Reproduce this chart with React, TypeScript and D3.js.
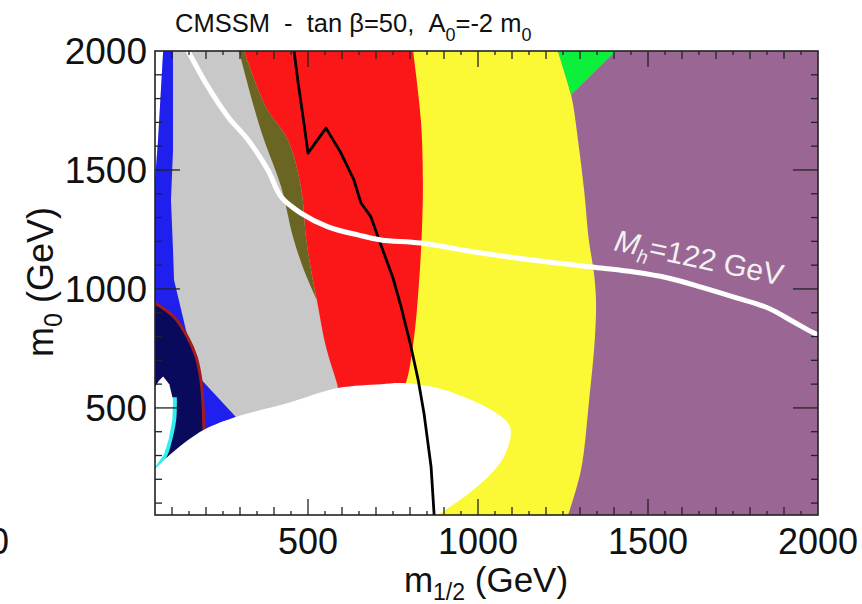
import React from "react";
import * as d3 from "d3";

type P = [number, number];

// Axes (GeV)
const X_DOMAIN: [number, number] = [50, 2000];
const Y_DOMAIN: [number, number] = [50, 2000];
const xTickLabels = [500, 1000, 1500, 2000];
const yTickLabels = [500, 1000, 1500, 2000];

// Region boundaries, (m1/2, m0) in GeV
const yellowPurpleBoundary: P[] = [[1235, 2000], [1274, 1815], [1294, 1626], [1312, 1416], [1326, 1206], [1341, 1067], [1347, 954], [1344, 798], [1326, 521], [1303, 240], [1265, 50]];
const greenRegion: P[] = [[1235, 2000], [1406, 2000], [1274, 1815]];
const redYellowBoundary: P[] = [[809, 2000], [832, 1710], [838, 1445], [835, 1248], [829, 1080], [812, 798], [788, 605], [770, 560]];
const redLeftBoundary: P[] = [[312, 2000], [376, 1765], [441, 1626], [479, 1429], [494, 1218], [509, 1080], [526, 954], [553, 756], [582, 618], [588, 584], [590, 540]];
const oliveLeftBoundary: P[] = [[297, 2000], [341, 1765], [371, 1626], [421, 1429], [456, 1218], [488, 1080], [526, 954]];
const whiteEdge: P[] = [[50, 2000], [74, 2000], [59, 1626], [50, 1458]];
const blueRegion: P[] = [[74, 2000], [103, 2000], [103, 1584], [97, 1374], [103, 1164], [106, 1038], [141, 828], [179, 630], [288, 462], [194, 408], [191, 521], [185, 618], [171, 714], [147, 794], [106, 882], [50, 941], [50, 1458], [59, 1626]];
const stauBoundary: P[] = [[50, 941], [106, 882], [147, 794], [171, 714], [185, 618], [191, 521], [194, 408]];
const navyBottom: P[] = [[103, 311], [50, 252]];
const whiteSpike: P[] = [[50, 588], [62, 615], [74, 632], [92, 600], [103, 534], [101, 450], [90, 366], [76, 303], [50, 252]];
const cyanEdge: P[] = [[104, 545], [102, 450], [90, 366], [76, 303], [50, 252]];
const ewsbEllipse: P[] = [[40, 238], [50, 245], [103, 315], [194, 408], [288, 462], [441, 521], [588, 584], [715, 600], [774, 605], [862, 590], [959, 546], [1038, 492], [1088, 437], [1097, 395], [1076, 294], [1029, 210], [959, 126], [891, 59], [870, 40]];
const blackContour: P[] = [[459, 2050], [459, 2000], [471, 1866], [488, 1697], [500, 1571], [553, 1676], [597, 1571], [635, 1458], [656, 1361], [685, 1303], [706, 1218], [750, 1046], [774, 924], [803, 756], [824, 618], [841, 479], [862, 252], [871, 50], [872, 20]];
const higgsContour: P[] = [[129, 2046], [150, 1992], [206, 1849], [265, 1723], [324, 1626], [382, 1500], [421, 1387], [479, 1319], [559, 1261], [647, 1227], [715, 1206], [832, 1193], [1009, 1151], [1206, 1113], [1362, 1088], [1459, 1071], [1559, 1046], [1656, 1008], [1753, 966], [1853, 920], [1929, 861], [1988, 815], [2030, 790]];
const higgsLabelAt: P = [1397, 1164];

const FONT = "'Liberation Sans', Arial, Helvetica, sans-serif";

export default function App() {
  const x = d3.scaleLinear().domain(X_DOMAIN).range([155, 818]);
  const y = d3.scaleLinear().domain(Y_DOMAIN).range([515, 51]);
  const curved = d3.line<P>().x((d) => x(d[0])).y((d) => y(d[1])).curve(d3.curveCatmullRom.alpha(0.5));
  const straight = d3.line<P>().x((d) => x(d[0])).y((d) => y(d[1]));
  const shape = (pts: P[], tail: P[], gen = curved) =>
    (gen(pts) || "") + tail.map((p) => `L${x(p[0])},${y(p[1])}`).join("") + "Z";
  const leftFill = (b: P[]) =>
    shape(b, [[b[b.length - 1][0], 0], [0, 0], [0, 2100], [b[0][0], 2100]]);
  const oliveRight = redLeftBoundary.slice(0, 7);
  const oliveShape = (curved(oliveLeftBoundary) || "") +
    (curved([...oliveRight].reverse()) || "").replace(/^M/, "L") + "Z";

  const [x0, x1] = x.range();
  const [yb, yt] = y.range();
  const xTicks = d3.range(100, 2000, 50);
  const yTicks = d3.range(100, 2000, 100);
  const xLen = (v: number) => (v % 500 === 0 ? 16 : v % 100 === 0 ? 8 : 4);
  const yLen = (v: number) => (v % 500 === 0 ? 25 : 7);

  return (
    <svg width={862} height={604} style={{ position: "absolute", left: 0, top: 0, background: "#fff" }} fontFamily={FONT}>
      <defs>
        <clipPath id="plot">
          <rect x={x0} y={yt} width={x1 - x0} height={yb - yt} />
        </clipPath>
      </defs>
      <g clipPath="url(#plot)">
        <rect x={x0} y={yt} width={x1 - x0} height={yb - yt} fill="#9a6795" />
        <path d={leftFill(yellowPurpleBoundary)} fill="#fbf835" />
        <path d={straight(greenRegion) + "Z"} fill="#0cf03c" />
        <path d={leftFill(redYellowBoundary)} fill="#fb1717" />
        <path d={leftFill(redLeftBoundary)} fill="#c8c8c8" />
        <path d={oliveShape} fill="#6a6522" />
        <path d={straight(whiteEdge) + "Z"} fill="#ffffff" />
        <path d={straight(blueRegion) + "Z"} fill="#1f1fee" />
        <path d={shape(stauBoundary, navyBottom)} fill="#0a0a5c" />
        <path d={curved(stauBoundary) || ""} fill="none" stroke="#a31c1c" strokeWidth={3} />
        <path d={curved(cyanEdge) || ""} fill="none" stroke="#2eeeee" strokeWidth={7} />
        <path d={straight(whiteSpike) + "Z"} fill="#ffffff" />
        <path d={shape(ewsbEllipse, [[860, 0], [0, 0], [0, 238]])} fill="#ffffff" />
        <path d={straight(blackContour) || ""} fill="none" stroke="#000" strokeWidth={2.8} strokeLinejoin="round" />
        <path d={curved(higgsContour) || ""} fill="none" stroke="#ffffff" strokeWidth={5} />
      </g>
      <text
        transform={`translate(${x(higgsLabelAt[0])},${y(higgsLabelAt[1])}) rotate(12)`}
        fill="#f2f2f2"
        fontSize={30}
      >
        <tspan fontStyle="italic">M</tspan>
        <tspan fontStyle="italic" fontSize={19} dy={7}>h</tspan>
        <tspan dy={-7}>=122 GeV</tspan>
      </text>

      {/* frame & ticks */}
      <g stroke="#222" strokeWidth={1.3}>
        {xTicks.map((v) => (
          <g key={"x" + v}>
            <line x1={x(v)} x2={x(v)} y1={yb} y2={yb - xLen(v)} />
            <line x1={x(v)} x2={x(v)} y1={yt} y2={yt + xLen(v)} />
          </g>
        ))}
        {yTicks.map((v) => (
          <g key={"y" + v}>
            <line x1={x0} x2={x0 + yLen(v)} y1={y(v)} y2={y(v)} />
            <line x1={x1} x2={x1 - yLen(v)} y1={y(v)} y2={y(v)} />
          </g>
        ))}
      </g>
      <rect x={x0} y={yt} width={x1 - x0} height={yb - yt} fill="none" stroke="#222" strokeWidth={1.6} />

      {/* tick labels */}
      {xTickLabels.map((v) => (
        <text key={"xl" + v} x={x(v)} y={554} textAnchor="middle" fontSize={36} fill="#111">{v}</text>
      ))}
      <text x={9} y={554} textAnchor="end" fontSize={36} fill="#111">2000</text>
      {yTickLabels.map((v) => (
        <text key={"yl" + v} x={147} y={y(v) + 13} textAnchor="end" fontSize={37} fill="#111">{v}</text>
      ))}

      {/* axis titles */}
      <text x={486} y={592} textAnchor="middle" fontSize={35} fill="#111">
        m<tspan fontSize={23} dy={8}>1/2</tspan><tspan dy={-8}> (GeV)</tspan>
      </text>
      <text transform="translate(53,282) rotate(-90)" textAnchor="middle" fontSize={36} fill="#111">
        m<tspan fontSize={25} dy={9}>0</tspan><tspan dy={-9}> (GeV)</tspan>
      </text>

      {/* title */}
      <text x={175} y={32} fontSize={25.5} fill="#111" style={{ whiteSpace: "pre" }}>
        {"CMSSM  -  tan β=50,  A"}
        <tspan fontSize={18} dy={9}>0</tspan>
        <tspan dy={-9}>{"=-2 m"}</tspan>
        <tspan fontSize={18} dy={9}>0</tspan>
      </text>
    </svg>
  );
}
